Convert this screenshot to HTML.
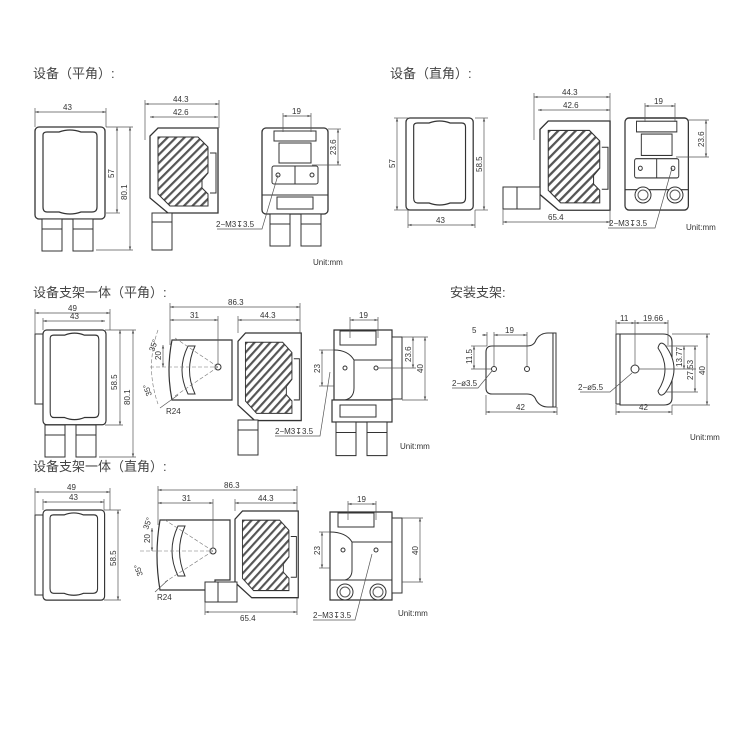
<!DOCTYPE html>
<html><head><meta charset="utf-8"><style>
html,body{margin:0;padding:0;background:#fff}
svg{display:block}
polyline{fill:none}
text{font-family:"Liberation Sans","Noto Sans CJK SC",sans-serif;fill:#333}
.t{font-size:13px;fill:#444}
.d{font-size:8px}
</style></head><body>
<svg width="750" height="750" viewBox="0 0 750 750" xmlns="http://www.w3.org/2000/svg">
<defs>
<pattern id="h" width="6" height="6" patternUnits="userSpaceOnUse" patternTransform="rotate(45)">
<rect width="6" height="6" fill="#fff"/><rect width="2.2" height="6" fill="#555"/></pattern>
<marker id="a" viewBox="0 0 6 6" refX="6" refY="3" markerWidth="5" markerHeight="5" orient="auto-start-reverse"><path d="M0,1 L6,3 L0,5z" fill="#555"/></marker>
<g id="front">
<rect x="0" y="0" width="70" height="92" rx="4" fill="#fff" stroke="#333" stroke-width="1.3"/>
<path d="M8,8 Q8,5 12,5 L24,5 Q35,1 46,5 L58,5 Q62,5 62,9 L62,80 Q62,85 57,85 L46,85 Q35,89 24,85 L12,85 Q8,85 8,80 Z" fill="#fff" stroke="#333" stroke-width="1.2"/>
</g>
<g id="legs">
<rect x="0" y="0" width="20" height="32" fill="#fff" stroke="#333"/><line x1="0" y1="10" x2="20" y2="10" stroke="#333"/>
<rect x="31" y="0" width="20" height="32" fill="#fff" stroke="#333"/><line x1="31" y1="10" x2="51" y2="10" stroke="#333"/>
</g>
<g id="side">
<path d="M8,0 L68,0 L68,85 L18,85 L0,70 L0,8 Z" fill="#fff" stroke="#333" stroke-width="1.3"/>
<path d="M8,9 L48,9 L58,19 L58,45 L52,52 L52,60 L58,66 L58,78 L20,78 L8,66 Z" fill="url(#h)" stroke="#333"/>
<path d="M60,25 L66,25 L66,65 L60,65" fill="none" stroke="#333"/>
</g>
<g id="back">
<rect x="0" y="0" width="66" height="86" rx="4" fill="#fff" stroke="#333" stroke-width="1.3"/>
<rect x="12" y="3" width="42" height="10" fill="#fff" stroke="#333"/>
<rect x="17" y="15" width="32" height="20" fill="#fff" stroke="#333"/>
<rect x="10" y="38" width="46" height="18" rx="2" fill="#fff" stroke="#333"/>
<line x1="33" y1="38" x2="33" y2="56" stroke="#333"/>
<circle cx="16" cy="47" r="2" fill="none" stroke="#333"/><circle cx="50" cy="47" r="2" fill="none" stroke="#333"/>
<line x1="0" y1="67" x2="66" y2="67" stroke="#333"/>
</g>
</defs>

<!-- Section 1 -->
<text class="t" x="33" y="78">设备（平角）:</text>
<use href="#front" x="35" y="127"/>
<use href="#legs" x="42" y="219"/>
<g stroke="#555" stroke-width="0.7" fill="none">
<line x1="35" y1="112" x2="106" y2="112" marker-start="url(#a)" marker-end="url(#a)"/>
<line x1="35" y1="108" x2="35" y2="127"/><line x1="106" y1="108" x2="106" y2="127"/>
<line x1="117" y1="127" x2="117" y2="213" marker-start="url(#a)" marker-end="url(#a)"/>
<line x1="130" y1="127" x2="130" y2="250" marker-start="url(#a)" marker-end="url(#a)"/>
<line x1="106" y1="127" x2="133" y2="127"/><line x1="106" y1="213" x2="120" y2="213"/><line x1="96" y1="250" x2="133" y2="250"/>
</g>
<text class="d" x="63" y="110">43</text>
<text class="d" transform="translate(114,178) rotate(-90)">57</text>
<text class="d" transform="translate(127,200) rotate(-90)">80.1</text>

<use href="#side" x="150" y="128"/>
<rect x="152" y="213" width="20" height="37" fill="#fff" stroke="#333"/><line x1="152" y1="222" x2="172" y2="222" stroke="#333"/>
<g stroke="#555" stroke-width="0.7" fill="none">
<line x1="145" y1="104" x2="219" y2="104" marker-start="url(#a)" marker-end="url(#a)"/>
<line x1="150" y1="117" x2="218" y2="117" marker-start="url(#a)" marker-end="url(#a)"/>
<line x1="145" y1="100" x2="145" y2="140"/><line x1="219" y1="100" x2="219" y2="128"/>
</g>
<text class="d" x="173" y="102">44.3</text><text class="d" x="173" y="115">42.6</text>

<use href="#back" x="262" y="128"/>
<use href="#legs" x="270" y="214"/>
<rect x="277" y="197" width="36" height="12" fill="#fff" stroke="#333"/>
<g stroke="#555" stroke-width="0.7" fill="none">
<line x1="283" y1="116" x2="311" y2="116" marker-start="url(#a)" marker-end="url(#a)"/>
<line x1="283" y1="113" x2="283" y2="132"/><line x1="311" y1="113" x2="311" y2="132"/>
<line x1="338" y1="129" x2="338" y2="165" marker-start="url(#a)" marker-end="url(#a)"/>
<line x1="312" y1="165" x2="341" y2="165"/><line x1="328" y1="129" x2="341" y2="129"/>
<polyline points="217,229 262,229 278,175"/>
</g>
<text class="d" x="216" y="227">2−M3↧3.5</text>
<text class="d" x="292" y="114">19</text>
<text class="d" transform="translate(336,155) rotate(-90)">23.6</text>
<text class="d" x="313" y="265">Unit:mm</text>

<!-- Section 2 -->
<text class="t" x="390" y="78">设备（直角）:</text>
<use href="#front" x="406" y="118" transform="translate(406,118) scale(0.96,1) translate(-406,-118)"/>
<g stroke="#555" stroke-width="0.7" fill="none">
<line x1="397" y1="118" x2="397" y2="210" marker-start="url(#a)" marker-end="url(#a)"/>
<line x1="484" y1="118" x2="484" y2="210" marker-start="url(#a)" marker-end="url(#a)"/>
<line x1="408" y1="225" x2="475" y2="225" marker-start="url(#a)" marker-end="url(#a)"/>
<line x1="394" y1="118" x2="408" y2="118"/><line x1="394" y1="210" x2="408" y2="210"/>
<line x1="475" y1="118" x2="488" y2="118"/><line x1="475" y1="210" x2="488" y2="210"/>
<line x1="408" y1="210" x2="408" y2="228"/><line x1="475" y1="210" x2="475" y2="228"/>
</g>
<text class="d" transform="translate(395,168) rotate(-90)">57</text>
<text class="d" transform="translate(482,172) rotate(-90)">58.5</text>
<text class="d" x="436" y="223">43</text>

<use href="#side" x="540" y="121" transform="translate(540,121) scale(1.03,1.05) translate(-540,-121)"/>
<rect x="503" y="187" width="37" height="22" fill="#fff" stroke="#333"/><line x1="517" y1="187" x2="517" y2="209" stroke="#333"/>
<g stroke="#555" stroke-width="0.7" fill="none">
<line x1="534" y1="97" x2="610" y2="97" marker-start="url(#a)" marker-end="url(#a)"/>
<line x1="538" y1="110" x2="610" y2="110" marker-start="url(#a)" marker-end="url(#a)"/>
<line x1="534" y1="93" x2="534" y2="140"/><line x1="610" y1="93" x2="610" y2="121"/>
<line x1="503" y1="222" x2="610" y2="222" marker-start="url(#a)" marker-end="url(#a)"/>
<line x1="503" y1="209" x2="503" y2="225"/><line x1="610" y1="210" x2="610" y2="225"/>
</g>
<text class="d" x="562" y="95">44.3</text><text class="d" x="563" y="108">42.6</text><text class="d" x="548" y="220">65.4</text>

<use href="#back" x="625" y="118" transform="translate(625,118) scale(0.96,1.07) translate(-625,-118)"/>
<circle cx="643" cy="195" r="8" fill="#fff" stroke="#333"/><circle cx="643" cy="195" r="5" fill="none" stroke="#555"/>
<circle cx="675" cy="195" r="8" fill="#fff" stroke="#333"/><circle cx="675" cy="195" r="5" fill="none" stroke="#555"/>
<g stroke="#555" stroke-width="0.7" fill="none">
<line x1="645" y1="106" x2="675" y2="106" marker-start="url(#a)" marker-end="url(#a)"/>
<line x1="645" y1="103" x2="645" y2="122"/><line x1="675" y1="103" x2="675" y2="122"/>
<line x1="706" y1="120" x2="706" y2="157" marker-start="url(#a)" marker-end="url(#a)"/>
<line x1="676" y1="157" x2="709" y2="157"/><line x1="688" y1="120" x2="709" y2="120"/>
<polyline points="608,228 655,228 672,168"/>
</g>
<text class="d" x="654" y="104">19</text>
<text class="d" transform="translate(704,147) rotate(-90)">23.6</text>
<text class="d" x="609" y="226">2−M3↧3.5</text>
<text class="d" x="686" y="230">Unit:mm</text>

<!-- Section 3 -->
<text class="t" x="33" y="297">设备支架一体（平角）:</text>
<rect x="35" y="334" width="9" height="70" fill="#fff" stroke="#333"/>
<use href="#front" x="43" y="330" transform="translate(43,330) scale(0.9,1.03) translate(-43,-330)"/>
<use href="#legs" x="45" y="425"/>
<g stroke="#555" stroke-width="0.7" fill="none">
<line x1="35" y1="313" x2="110" y2="313" marker-start="url(#a)" marker-end="url(#a)"/>
<line x1="43" y1="321" x2="105" y2="321" marker-start="url(#a)" marker-end="url(#a)"/>
<line x1="35" y1="309" x2="35" y2="334"/><line x1="110" y1="309" x2="110" y2="330"/><line x1="43" y1="318" x2="43" y2="330"/>
<line x1="120" y1="330" x2="120" y2="425" marker-start="url(#a)" marker-end="url(#a)"/>
<line x1="133" y1="330" x2="133" y2="457" marker-start="url(#a)" marker-end="url(#a)"/>
<line x1="105" y1="330" x2="136" y2="330"/><line x1="105" y1="425" x2="123" y2="425"/><line x1="99" y1="457" x2="136" y2="457"/>
</g>
<text class="d" x="68" y="311">49</text><text class="d" x="70" y="319">43</text>
<text class="d" transform="translate(117,390) rotate(-90)">58.5</text>
<text class="d" transform="translate(130,405) rotate(-90)">80.1</text>

<path d="M172,340 L232,340 L232,400 L172,400 Q166,370 172,340 Z" fill="#fff" stroke="#333" stroke-width="1.2"/>
<path d="M188,346 Q176,370 188,394 L195,394 Q184,370 195,346 Z" fill="#fff" stroke="#333"/>
<circle cx="218" cy="367" r="3" fill="none" stroke="#333"/>
<g stroke="#777" stroke-width="0.6" stroke-dasharray="4,2" fill="none">
<line x1="150" y1="367" x2="218" y2="367"/><line x1="218" y1="367" x2="175" y2="338"/><line x1="218" y1="367" x2="175" y2="396"/>
<path d="M158,330 Q145,367 158,404"/>
</g>
<use href="#side" x="238" y="333" transform="translate(238,333) scale(0.93,1.03) translate(-238,-333)"/>
<rect x="238" y="420" width="20" height="35" fill="#fff" stroke="#333"/><line x1="238" y1="430" x2="258" y2="430" stroke="#333"/>
<g stroke="#555" stroke-width="0.7" fill="none">
<line x1="170" y1="307" x2="300" y2="307" marker-start="url(#a)" marker-end="url(#a)"/>
<line x1="170" y1="320" x2="218" y2="320" marker-start="url(#a)" marker-end="url(#a)"/>
<line x1="238" y1="320" x2="300" y2="320" marker-start="url(#a)" marker-end="url(#a)"/>
<line x1="170" y1="303" x2="170" y2="345"/><line x1="300" y1="303" x2="300" y2="333"/><line x1="218" y1="316" x2="218" y2="365"/><line x1="238" y1="316" x2="238" y2="333"/>
<line x1="163" y1="345" x2="163" y2="367" marker-start="url(#a)" marker-end="url(#a)"/>
<line x1="160" y1="408" x2="178" y2="395"/>
<polyline points="275,436 320,436 330,372"/>
</g>
<text class="d" x="228" y="305">86.3</text><text class="d" x="190" y="318">31</text><text class="d" x="260" y="318">44.3</text>
<text class="d" transform="translate(161,360) rotate(-90)">20</text>
<text class="d" transform="translate(154,352) rotate(-70)">35°</text>
<text class="d" transform="translate(152,395) rotate(-110)">35°</text>
<text class="d" x="166" y="414">R24</text>
<text class="d" x="275" y="434">2−M3↧3.5</text>

<path d="M334,330 L392,330 L392,400 L334,400 Z" fill="#fff" stroke="#333" stroke-width="1.2"/>
<rect x="340" y="331" width="36" height="14" fill="#fff" stroke="#333"/>
<path d="M334,350 Q348,350 354,360 L354,388 Q354,398 345,400" fill="none" stroke="#333"/>
<line x1="354" y1="360" x2="392" y2="360" stroke="#333"/>
<circle cx="345" cy="368" r="2" fill="none" stroke="#333"/><circle cx="376" cy="368" r="2" fill="none" stroke="#333"/>
<rect x="392" y="337" width="10" height="62" fill="#fff" stroke="#333"/>
<rect x="332" y="400" width="60" height="22" fill="#fff" stroke="#333" stroke-width="1.2"/>
<rect x="340" y="405" width="36" height="12" fill="#fff" stroke="#333"/>
<use href="#legs" x="336" y="422" transform="translate(336,422) scale(1,1.05) translate(-336,-422)"/>
<g stroke="#555" stroke-width="0.7" fill="none">
<line x1="350" y1="320" x2="378" y2="320" marker-start="url(#a)" marker-end="url(#a)"/>
<line x1="350" y1="317" x2="350" y2="338"/><line x1="378" y1="317" x2="378" y2="338"/>
<line x1="322" y1="350" x2="322" y2="386" marker-start="url(#a)" marker-end="url(#a)"/>
<line x1="319" y1="350" x2="334" y2="350"/><line x1="319" y1="386" x2="334" y2="386"/>
<line x1="413" y1="337" x2="413" y2="368" marker-start="url(#a)" marker-end="url(#a)"/>
<line x1="425" y1="337" x2="425" y2="400" marker-start="url(#a)" marker-end="url(#a)"/>
<line x1="402" y1="337" x2="428" y2="337"/><line x1="378" y1="368" x2="416" y2="368"/><line x1="402" y1="400" x2="428" y2="400"/>
</g>
<text class="d" x="359" y="318">19</text>
<text class="d" transform="translate(320,373) rotate(-90)">23</text>
<text class="d" transform="translate(411,362) rotate(-90)">23.6</text>
<text class="d" transform="translate(423,373) rotate(-90)">40</text>
<text class="d" x="400" y="449">Unit:mm</text>

<!-- Section 4 -->
<text class="t" x="450" y="297">安装支架:</text>
<path d="M492,346 L527,346 Q534,346 536,340 Q540,333 548,333 L553,333 L553,407 L548,407 Q540,407 536,400 Q534,394 527,394 L492,394 Q486,394 486,388 L486,352 Q486,346 492,346 Z" fill="#fff" stroke="#333" stroke-width="1.1"/>
<rect x="553" y="333" width="3" height="74" fill="#fff" stroke="#333"/>
<circle cx="494" cy="369" r="2.5" fill="none" stroke="#333"/><circle cx="527" cy="369" r="2.5" fill="none" stroke="#333"/>
<g stroke="#555" stroke-width="0.7" fill="none">
<line x1="482" y1="335" x2="487" y2="335" marker-end="url(#a)"/><line x1="494" y1="335" x2="527" y2="335" marker-start="url(#a)" marker-end="url(#a)"/>
<line x1="487" y1="332" x2="487" y2="346"/><line x1="494" y1="332" x2="494" y2="366"/><line x1="527" y1="332" x2="527" y2="366"/>
<line x1="474" y1="346" x2="474" y2="369" marker-start="url(#a)" marker-end="url(#a)"/>
<line x1="471" y1="346" x2="487" y2="346"/><line x1="471" y1="369" x2="491" y2="369"/>
<line x1="486" y1="412" x2="557" y2="412" marker-start="url(#a)" marker-end="url(#a)"/>
<line x1="486" y1="395" x2="486" y2="415"/><line x1="557" y1="407" x2="557" y2="415"/>
<polyline points="452,388 478,388 492,371"/>
</g>
<text class="d" x="472" y="333">5</text><text class="d" x="505" y="333">19</text>
<text class="d" transform="translate(472,364) rotate(-90)">11.5</text>
<text class="d" x="452" y="386">2−ø3.5</text>
<text class="d" x="516" y="410">42</text>

<rect x="616" y="334" width="4" height="70" fill="#fff" stroke="#333"/>
<path d="M620,334 L663,334 Q672,334 672,342 L672,398 Q672,405 664,405 L620,405 Z" fill="#fff" stroke="#333" stroke-width="1.1"/>
<path d="M665,345 Q683,369 665,393 Q660,398 658,391 Q672,369 658,348 Q660,340 665,345 Z" fill="#fff" stroke="#333"/>
<circle cx="635" cy="369" r="4" fill="none" stroke="#333"/>
<g stroke="#555" stroke-width="0.7" fill="none">
<line x1="616" y1="323" x2="635" y2="323" marker-start="url(#a)" marker-end="url(#a)"/>
<line x1="635" y1="323" x2="668" y2="323" marker-start="url(#a)" marker-end="url(#a)"/>
<line x1="616" y1="320" x2="616" y2="334"/><line x1="635" y1="320" x2="635" y2="365"/><line x1="668" y1="320" x2="668" y2="345"/>
<line x1="639" y1="369" x2="696" y2="369"/>
<line x1="684" y1="346" x2="684" y2="369" marker-start="url(#a)" marker-end="url(#a)"/>
<line x1="695" y1="346" x2="695" y2="392" marker-start="url(#a)" marker-end="url(#a)"/>
<line x1="707" y1="334" x2="707" y2="405" marker-start="url(#a)" marker-end="url(#a)"/>
<line x1="666" y1="346" x2="698" y2="346"/><line x1="666" y1="392" x2="698" y2="392"/>
<line x1="672" y1="334" x2="710" y2="334"/><line x1="672" y1="405" x2="710" y2="405"/>
<line x1="616" y1="412" x2="672" y2="412" marker-start="url(#a)" marker-end="url(#a)"/>
<line x1="616" y1="405" x2="616" y2="415"/><line x1="672" y1="405" x2="672" y2="415"/>
<polyline points="580,392 610,392 632,373"/>
</g>
<text class="d" x="620" y="321">11</text><text class="d" x="643" y="321">19.66</text>
<text class="d" transform="translate(682,367) rotate(-90)">13.77</text>
<text class="d" transform="translate(693,380) rotate(-90)">27.53</text>
<text class="d" transform="translate(705,375) rotate(-90)">40</text>
<text class="d" x="578" y="390">2−ø5.5</text>
<text class="d" x="639" y="410">42</text>
<text class="d" x="690" y="440">Unit:mm</text>

<!-- Section 5 -->
<text class="t" x="33" y="471">设备支架一体（直角）:</text>
<rect x="35" y="515" width="9" height="80" fill="#fff" stroke="#333"/>
<use href="#front" x="43" y="510" transform="translate(43,510) scale(0.88,0.98) translate(-43,-510)"/>
<g stroke="#555" stroke-width="0.7" fill="none">
<line x1="35" y1="492" x2="110" y2="492" marker-start="url(#a)" marker-end="url(#a)"/>
<line x1="43" y1="502" x2="104" y2="502" marker-start="url(#a)" marker-end="url(#a)"/>
<line x1="35" y1="488" x2="35" y2="515"/><line x1="110" y1="488" x2="110" y2="510"/><line x1="43" y1="499" x2="43" y2="510"/><line x1="104" y1="499" x2="104" y2="510"/>
<line x1="118" y1="510" x2="118" y2="600" marker-start="url(#a)" marker-end="url(#a)"/>
<line x1="104" y1="510" x2="121" y2="510"/><line x1="104" y1="600" x2="121" y2="600"/>
</g>
<text class="d" x="67" y="490">49</text><text class="d" x="69" y="500">43</text>
<text class="d" transform="translate(116,566) rotate(-90)">58.5</text>

<path d="M160,520 L230,520 L230,580 L215,580 L215,590 L160,590 Q154,555 160,520 Z" fill="#fff" stroke="#333" stroke-width="1.2"/>
<path d="M178,526 Q166,551 178,576 L185,576 Q174,551 185,526 Z" fill="#fff" stroke="#333"/>
<circle cx="213" cy="551" r="3" fill="none" stroke="#333"/>
<g stroke="#777" stroke-width="0.6" stroke-dasharray="4,2" fill="none">
<line x1="140" y1="551" x2="213" y2="551"/><line x1="213" y1="551" x2="165" y2="520"/><line x1="213" y1="551" x2="165" y2="582"/>
</g>
<use href="#side" x="235" y="511" transform="translate(235,511) scale(0.93,1.02) translate(-235,-511)"/>
<rect x="205" y="582" width="32" height="20" fill="#fff" stroke="#333"/><line x1="218" y1="582" x2="218" y2="602" stroke="#333"/>
<g stroke="#555" stroke-width="0.7" fill="none">
<line x1="158" y1="490" x2="297" y2="490" marker-start="url(#a)" marker-end="url(#a)"/>
<line x1="158" y1="503" x2="213" y2="503" marker-start="url(#a)" marker-end="url(#a)"/>
<line x1="235" y1="503" x2="297" y2="503" marker-start="url(#a)" marker-end="url(#a)"/>
<line x1="158" y1="486" x2="158" y2="525"/><line x1="297" y1="486" x2="297" y2="511"/><line x1="213" y1="499" x2="213" y2="548"/><line x1="235" y1="499" x2="235" y2="511"/>
<line x1="152" y1="528" x2="152" y2="551" marker-start="url(#a)" marker-end="url(#a)"/>
<line x1="205" y1="612" x2="297" y2="612" marker-start="url(#a)" marker-end="url(#a)"/>
<line x1="205" y1="602" x2="205" y2="615"/><line x1="297" y1="598" x2="297" y2="615"/>
<line x1="155" y1="592" x2="168" y2="580"/>
</g>
<text class="d" x="224" y="488">86.3</text><text class="d" x="182" y="501">31</text><text class="d" x="258" y="501">44.3</text>
<text class="d" transform="translate(150,543) rotate(-90)">20</text>
<text class="d" transform="translate(148,530) rotate(-70)">35°</text>
<text class="d" transform="translate(143,575) rotate(-110)">35°</text>
<text class="d" x="157" y="600">R24</text>
<text class="d" x="240" y="621">65.4</text>

<path d="M330,512 L392,512 L392,600 L330,600 Z" fill="#fff" stroke="#333" stroke-width="1.2"/>
<rect x="338" y="513" width="36" height="14" fill="#fff" stroke="#333"/>
<path d="M330,532 Q346,532 352,542 L352,570 Q352,578 345,580" fill="none" stroke="#333"/>
<line x1="352" y1="542" x2="392" y2="542" stroke="#333"/>
<circle cx="343" cy="550" r="2" fill="none" stroke="#333"/><circle cx="376" cy="550" r="2" fill="none" stroke="#333"/>
<rect x="392" y="518" width="10" height="75" fill="#fff" stroke="#333"/>
<line x1="330" y1="580" x2="392" y2="580" stroke="#333"/>
<circle cx="345" cy="592" r="8" fill="#fff" stroke="#333"/><circle cx="345" cy="592" r="5" fill="none" stroke="#555"/>
<circle cx="378" cy="592" r="8" fill="#fff" stroke="#333"/><circle cx="378" cy="592" r="5" fill="none" stroke="#555"/>
<g stroke="#555" stroke-width="0.7" fill="none">
<line x1="348" y1="504" x2="376" y2="504" marker-start="url(#a)" marker-end="url(#a)"/>
<line x1="348" y1="501" x2="348" y2="520"/><line x1="376" y1="501" x2="376" y2="520"/>
<line x1="322" y1="532" x2="322" y2="568" marker-start="url(#a)" marker-end="url(#a)"/>
<line x1="319" y1="532" x2="330" y2="532"/><line x1="319" y1="568" x2="330" y2="568"/>
<line x1="420" y1="518" x2="420" y2="582" marker-start="url(#a)" marker-end="url(#a)"/>
<line x1="402" y1="518" x2="423" y2="518"/><line x1="402" y1="582" x2="423" y2="582"/>
<polyline points="313,620 355,620 372,554"/>
</g>
<text class="d" x="357" y="502">19</text>
<text class="d" transform="translate(320,555) rotate(-90)">23</text>
<text class="d" transform="translate(418,555) rotate(-90)">40</text>
<text class="d" x="313" y="618">2−M3↧3.5</text>
<text class="d" x="398" y="616">Unit:mm</text>
</svg>
</body></html>
